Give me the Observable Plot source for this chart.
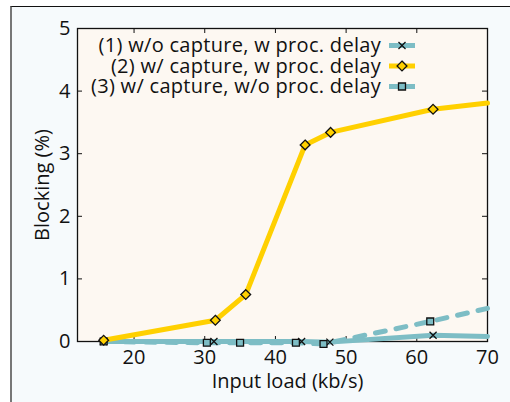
<!DOCTYPE html>
<html>
<head>
<meta charset="utf-8">
<script src="https://cdn.jsdelivr.net/npm/d3@7"></script>
<script src="https://cdn.jsdelivr.net/npm/@observablehq/plot@0.6"></script>
<style>
  html, body { margin: 0; padding: 0; background: #fff; }
  #wrap { position: relative; width: 510px; height: 402px; overflow: hidden; }
  #bg { position: absolute; left: 10px; top: 6px; width: 520px; height: 420px;
        background: #f6fafc; border-left: 2px solid #777; border-top: 1.5px solid #111; box-sizing: border-box; }
  #chart { position: absolute; left: 0; top: 0; }
  svg { font-family: "Open Sans", sans-serif; }
</style>
</head>
<body>
<div id="wrap"><div id="bg"></div><div id="chart"></div></div>
<script>
// Series (1) w/o capture, w proc. delay
const s1x = [15.7, 31.3, 43.7, 47.7, 62.3, 70];
const s1y = [0.0, 0.0, 0.0, -0.01, 0.1, 0.08];
// Series (2) w/ capture, w proc. delay
const s2x = [15.7, 31.5, 35.8, 44.2, 47.8, 62.3, 70];
const s2y = [0.02, 0.34, 0.75, 3.14, 3.34, 3.71, 3.81];
// Series (3) w/ capture, w/o proc. delay
const s3x = [15.7, 30.3, 35.0, 42.9, 46.8, 61.9, 70];
const s3y = [0.0, -0.02, -0.02, -0.02, -0.04, 0.32, 0.53];

const seriesNames = ["(1) w/o capture, w proc. delay", "(2) w/ capture, w proc. delay", "(3) w/ capture, w/o proc. delay"];
const xTicks = [20, 30, 40, 50, 60, 70];
const yTicks = [0, 1, 2, 3, 4, 5];

const teal = "#7dbdc5";
const gold = "#ffd000";

const mk = (xs, ys) => xs.map((x, i) => ({x, y: ys[i]}));
const d1 = mk(s1x, s1y), d2 = mk(s2x, s2y), d3s = mk(s3x, s3y);
const markers = d => d.filter(p => p.x < 70);

const W = 510, H = 402, mL = 77, mR = 23, mT = 28, mB = 61;
const pw = W - mL - mR, ph = H - mT - mB;
const FS = 20;

const plot = Plot.plot({
  width: W, height: H,
  marginLeft: mL, marginRight: mR, marginTop: mT, marginBottom: mB,
  style: {background: "transparent", fontFamily: "Open Sans, sans-serif", overflow: "visible"},
  x: {domain: [12, 70], ticks: xTicks},
  y: {domain: [0, 5], ticks: yTicks},
  marks: [
    Plot.frame({fill: "#fdf8f2", stroke: null}),
    Plot.axisX(xTicks, {tickSize: 0, tickPadding: 8, fontSize: FS, fill: "#111", label: null, tickFormat: d3.format("d")}),
    Plot.axisY(yTicks, {tickSize: 0, tickPadding: 7, fontSize: FS, fill: "#111", label: null, tickFormat: d3.format("d")}),
    // inward ticks on all sides
    Plot.ruleX(xTicks, {x: d => d, insetTop: ph - 5, stroke: "#111"}),
    Plot.ruleX(xTicks, {x: d => d, insetBottom: ph - 5, stroke: "#111"}),
    Plot.ruleY(yTicks, {y: d => d, insetRight: pw - 5, stroke: "#111"}),
    Plot.ruleY(yTicks, {y: d => d, insetLeft: pw - 5, stroke: "#111"}),
    Plot.frame({stroke: "#111", strokeWidth: 1.3}),
    Plot.line(d3s, {x: "x", y: "y", stroke: teal, strokeWidth: 5, strokeDasharray: "10,11", clip: false}),
    Plot.line(d1, {x: "x", y: "y", stroke: teal, strokeWidth: 5, clip: false}),
    Plot.line(d2, {x: "x", y: "y", stroke: gold, strokeWidth: 5, clip: false}),
    Plot.dot(markers(d1), {x: "x", y: "y", symbol: "times", r: 3.3, stroke: "#111", strokeWidth: 1.3}),
    Plot.dot(markers(d3s), {x: "x", y: "y", symbol: "square2", r: 4.4, fill: teal, stroke: "#111", strokeWidth: 1.3}),
    Plot.dot(markers(d2), {x: "x", y: "y", symbol: "diamond2", r: 4.4, fill: gold, stroke: "#111", strokeWidth: 1.3}),
    Plot.text(["Input load (kb/s)"], {frameAnchor: "bottom", lineAnchor: "middle", dx: 5, dy: 40, fontSize: FS, fill: "#111"}),
    Plot.text(["Blocking (%)"], {frameAnchor: "left", dx: -35, rotate: -90, textAnchor: "middle", fontSize: FS, fill: "#111"})
  ]
});
document.getElementById("chart").appendChild(plot);

// Legend inside the plot area (top-right)
const svg = d3.select(plot);
const lg = svg.append("g");
const rowsY = [45.5, 66, 86.5];
const styles = [
  {stroke: teal, dash: null, sym: d3.symbolTimes, fill: "none", size: 34},
  {stroke: gold, dash: null, sym: d3.symbolDiamond2, fill: gold, size: 62},
  {stroke: teal, dash: "10,6", sym: d3.symbolSquare2, fill: teal, size: 62}
];
seriesNames.forEach((name, i) => {
  const y = rowsY[i], s = styles[i];
  lg.append("text").attr("x", 381).attr("y", y).attr("text-anchor", "end")
    .attr("dy", "0.34em").attr("font-size", FS).attr("letter-spacing", "0.3px")
    .attr("fill", "#111").text(name);
  lg.append("line").attr("x1", 389).attr("x2", 415).attr("y1", y).attr("y2", y)
    .attr("stroke", s.stroke).attr("stroke-width", 5)
    .attr("stroke-dasharray", s.dash);
  lg.append("path").attr("transform", `translate(402,${y})`)
    .attr("d", d3.symbol(s.sym, s.size)()).attr("fill", s.fill)
    .attr("stroke", "#111").attr("stroke-width", 1.3);
});
</script>
</body>
</html>
